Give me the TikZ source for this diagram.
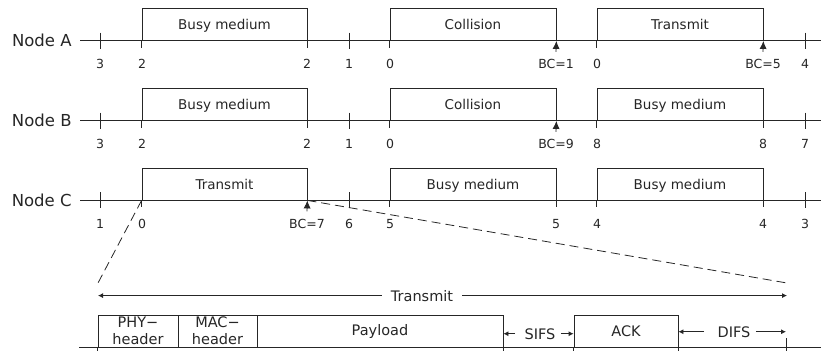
\documentclass[tikz,border=0pt]{standalone}
\usepackage{fontspec}
\setmainfont{DejaVu Sans}
\usetikzlibrary{arrows.meta}

\tikzset{
  rowlabel/.style={font=\fontsize{16.5}{18}\selectfont, anchor=base east, inner sep=0pt},
  slot/.style={draw, minimum height=32pt, inner sep=0pt, text height=10pt, text depth=0pt,
    font=\fontsize{13.5}{15}\selectfont},
  num/.style={font=\fontsize{12.5}{14}\selectfont, anchor=base, inner sep=0pt},
  field/.style={draw, minimum height=32pt, inner sep=0pt, align=center,
    font=\fontsize{14.5}{17}\selectfont},
  ftext/.style={font=\fontsize{14.5}{17}\selectfont, anchor=base, inner sep=0pt},
  bc/.style={-{Latex[length=8pt,width=7pt]}},
  dimarrow/.style={-{Latex[length=5pt,width=5pt]}},
  zoomline/.style={dash pattern=on 9pt off 5pt},
}

\begin{document}
\begin{tikzpicture}[x=1pt,y=-1pt,line width=0.8pt,color=black!85]
	\useasboundingbox (0,0) rectangle (821,351);

	% Node A
	\node[rowlabel] (labA) at (72,46.5) {Node A};
	\draw (80,40.5) -- (821,40.5);
	\foreach \x in {100,349,805} \draw (\x,32.5) -- (\x,48.5);
	\node[slot, minimum width=165pt] (busyA) at (224.5,24.5) {Busy medium};
	\node[slot, minimum width=166pt] (collA) at (473,24.5) {Collision};
	\node[slot, minimum width=166pt] (txA) at (680,24.5) {Transmit};
	\foreach \a in {busyA.south west, busyA.south east, collA.south west, txA.south west}
		\draw (\a) -- ++(0,7);
	\foreach \x/\n in {100/3,142/2,307/2,349/1,390/0,597/0,805/4}
		\node[num] (nA\x) at (\x,68.5) {\n};
	\node[num] (bcA1) at (556,68.5) {BC=1};
	\node[num] (bcA5) at (763,68.5) {BC=5};
	\draw[bc] ([yshift=7pt]bcA1.north) -- (collA.south east);
	\draw[bc] ([yshift=7pt]bcA5.north) -- (txA.south east);

	% Node B
	\node[rowlabel] (labB) at (72,126.5) {Node B};
	\draw (80,120.5) -- (821,120.5);
	\foreach \x in {100,349,805} \draw (\x,112.5) -- (\x,128.5);
	\node[slot, minimum width=165pt] (busyB) at (224.5,104.5) {Busy medium};
	\node[slot, minimum width=166pt] (collB) at (473,104.5) {Collision};
	\node[slot, minimum width=166pt] (busyB2) at (680,104.5) {Busy medium};
	\foreach \a in {busyB.south west, busyB.south east, collB.south west, busyB2.south west, busyB2.south east}
		\draw (\a) -- ++(0,7);
	\foreach \x/\n in {100/3,142/2,307/2,349/1,390/0,597/8,763/8,805/7}
		\node[num] (nB\x) at (\x,148.5) {\n};
	\node[num] (bcB9) at (556,148.5) {BC=9};
	\draw[bc] ([yshift=7pt]bcB9.north) -- (collB.south east);

	% Node C
	\node[rowlabel] (labC) at (72,206) {Node C};
	\draw (80,200) -- (821,200);
	\foreach \x in {100,349,805} \draw (\x,192) -- (\x,208);
	\node[slot, minimum width=165pt] (txC) at (224.5,184) {Transmit};
	\node[slot, minimum width=166pt] (busyC) at (473,184) {Busy medium};
	\node[slot, minimum width=166pt] (busyC2) at (680,184) {Busy medium};
	\foreach \a in {txC.south west, busyC.south west, busyC.south east, busyC2.south west, busyC2.south east}
		\draw (\a) -- ++(0,7);
	\foreach \x/\n in {100/1,142/0,349/6,390/5,556/5,597/4,763/4,805/3}
		\node[num] (nC\x) at (\x,228) {\n};
	\node[num] (bcC7) at (307,228) {BC=7};
	\draw[bc] ([yshift=7pt]bcC7.north) -- (txC.south east);

	% zoom on the transmit slot
	\coordinate (zl) at (98,283);
	\coordinate (zr) at (787,283);
	\draw[zoomline] (txC.south west) -- (zl);
	\draw[zoomline] (txC.south east) -- (zr);

	\node[ftext] (txspan) at (422,301) {Transmit};
	\draw[dimarrow] ([xshift=-9pt]txspan.west) -- (txspan.west -| zl);
	\draw[dimarrow] ([xshift=9pt]txspan.east) -- (txspan.east -| zr);

	% frame fields
	\draw (79,347) -- (821,347);
	\node[field, minimum width=80pt] (phy) at (138,331) {PHY−\\header};
	\node[field, minimum width=79pt] (mac) at (217.5,331) {MAC−\\header};
	\node[field, minimum width=246pt] (payload) at (380,331) {Payload};
	\node[field, minimum width=104pt] (ack) at (626,331) {ACK};
	\foreach \a in {phy.south west, payload.south east, ack.south west, ack.south east}
		\draw (\a) -- ++(0,4);

	\node[ftext] (sifs) at (540,339) {SIFS};
	\draw[dimarrow] ([xshift=-9pt]sifs.west) -- (sifs.west -| payload.east);
	\draw[dimarrow] ([xshift=5pt]sifs.east) -- (sifs.east -| ack.west);

	\coordinate (difsend) at (786,338);
	\node[ftext] (difs) at (734,337) {DIFS};
	\draw[dimarrow] ([xshift=-13pt]difs.west) -- (difs.west -| ack.east);
	\draw[dimarrow] ([xshift=5pt]difs.east) -- (difs.east -| difsend);
	\draw (difsend) -- ++(0,13);

\end{tikzpicture}
\end{document}
